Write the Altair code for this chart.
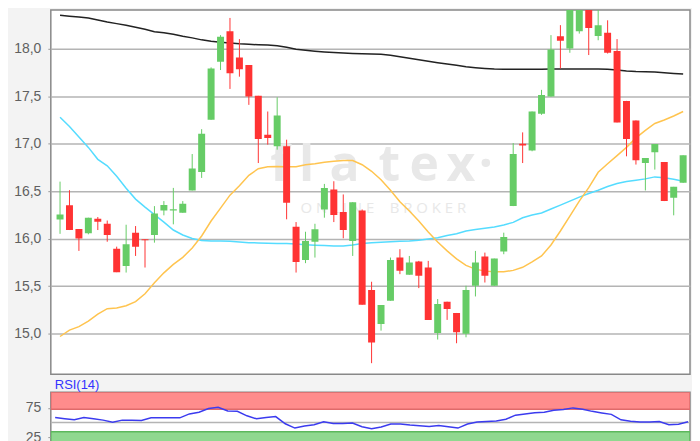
import altair as alt
import pandas as pd
import numpy as np

# ---- data (daily candles, oldest first) ----
opens = [16.20, 16.35, 16.10, 16.056, 16.21, 16.156, 15.894, 15.712, 16.062, 15.993,
         16.038, 16.297, 16.295, 16.272, 16.507, 16.702, 17.252, 17.864, 18.186, 17.909,
         17.829, 17.504, 17.094, 16.972, 16.972, 16.125, 15.775, 15.967, 16.307, 16.517,
         16.279, 15.975, 16.297, 15.458, 15.10, 15.345, 15.80, 15.618, 15.758, 15.695,
         15.006, 15.335, 15.216, 14.996, 15.503, 15.81, 15.503, 15.863, 16.342, 17.00,
         16.927, 17.315, 17.496, 18.133, 18.003, 18.186, 18.55, 18.136, 18.168, 17.976,
         17.451, 17.245, 16.796, 16.909, 16.807, 16.429, 16.587]
highs = [16.60, 16.51, 16.10, 16.22, 16.227, 16.19, 15.915, 16.146, 16.132, 15.993,
         16.342, 16.395, 16.534, 16.395, 16.891, 17.153, 17.804, 18.144, 18.325, 18.102,
         17.829, 17.504, 17.339, 17.489, 17.042, 16.174, 16.072, 16.156, 16.576, 16.604,
         16.465, 16.384, 16.307, 15.545, 15.30, 15.80, 15.888, 15.817, 15.765, 15.765,
         15.363, 15.335, 15.216, 15.503, 15.87, 15.852, 15.789, 16.062, 17.006, 17.119,
         17.339, 17.567, 18.144, 18.249, 18.62, 18.52, 18.60, 18.44, 18.30, 18.102,
         17.451, 17.245, 16.849, 16.996, 16.807, 16.545, 16.877]
lows = [16.05, 16.09, 15.87, 16.045, 16.09, 15.967, 15.646, 15.642, 15.817, 15.695,
        15.957, 16.245, 16.15, 16.272, 16.507, 16.639, 17.252, 17.776, 17.577, 17.706,
        17.409, 16.796, 16.99, 16.937, 16.203, 15.642, 15.741, 15.80, 16.22, 16.174,
        16.003, 15.817, 15.303, 14.687, 15.03, 15.345, 15.625, 15.618, 15.478, 15.143,
        14.936, 15.143, 14.897, 14.96, 15.39, 15.537, 15.503, 15.835, 16.342, 16.796,
        16.92, 17.304, 17.496, 17.793, 17.958, 18.16, 17.934, 18.09, 17.95, 17.224,
        16.867, 16.78, 16.507, 16.727, 16.395, 16.245, 16.587]
closes = [16.255, 16.09, 16.00, 16.22, 16.177, 16.038, 15.646, 15.94, 15.915, 15.982,
          16.265, 16.353, 16.31, 16.366, 16.738, 17.105, 17.793, 18.126, 17.741, 17.783,
          17.496, 17.048, 17.059, 17.297, 16.377, 15.754, 15.975, 16.098, 16.534, 16.248,
          16.09, 16.384, 15.303, 14.905, 15.30, 15.775, 15.66, 15.747, 15.608, 15.143,
          15.31, 15.258, 15.013, 15.458, 15.747, 15.608, 15.789, 16.017, 16.891, 16.982,
          17.339, 17.514, 17.993, 18.084, 18.56, 18.44, 18.22, 18.249, 17.958, 17.224,
          17.048, 16.825, 16.849, 16.996, 16.395, 16.545, 16.877]

ma_long = [18.354, 18.344, 18.336, 18.325, 18.304, 18.283, 18.265, 18.247, 18.226, 18.205,
           18.180, 18.168, 18.152, 18.131, 18.115, 18.094, 18.079, 18.068, 18.060, 18.052,
           18.047, 18.042, 18.039, 18.031, 18.016, 17.995, 17.984, 17.974, 17.966, 17.960,
           17.956, 17.951, 17.948, 17.945, 17.942, 17.932, 17.916, 17.900, 17.885, 17.869,
           17.853, 17.839, 17.827, 17.811, 17.801, 17.793, 17.787, 17.785, 17.785, 17.785,
           17.785, 17.785, 17.787, 17.787, 17.787, 17.787, 17.787, 17.787, 17.785, 17.776,
           17.766, 17.761, 17.759, 17.756, 17.748, 17.740, 17.733]
ma_mid = [17.279, 17.182, 17.071, 16.961, 16.835, 16.767, 16.657, 16.531, 16.416, 16.332,
          16.253, 16.174, 16.090, 16.038, 16.001, 15.980, 15.975, 15.975, 15.972, 15.964,
          15.957, 15.954, 15.951, 15.949, 15.947, 15.943, 15.936, 15.930, 15.926, 15.922,
          15.922, 15.933, 15.947, 15.957, 15.961, 15.967, 15.972, 15.975, 15.982, 15.996,
          16.009, 16.033, 16.051, 16.080, 16.096, 16.108, 16.122, 16.143, 16.171, 16.219,
          16.248, 16.269, 16.311, 16.353, 16.395, 16.437, 16.475, 16.510, 16.549, 16.580,
          16.601, 16.615, 16.629, 16.650, 16.641, 16.625, 16.604]
ma_short = [14.968, 15.036, 15.072, 15.130, 15.204, 15.261, 15.269, 15.293, 15.335, 15.419,
            15.534, 15.639, 15.728, 15.802, 15.901, 16.027, 16.185, 16.321, 16.458, 16.557,
            16.667, 16.736, 16.757, 16.760, 16.757, 16.757, 16.778, 16.788, 16.804, 16.814,
            16.822, 16.822, 16.778, 16.709, 16.620, 16.510, 16.389, 16.290, 16.185, 16.069,
            15.964, 15.870, 15.786, 15.718, 15.678, 15.657, 15.650, 15.650, 15.665, 15.697,
            15.755, 15.817, 15.933, 16.080, 16.237, 16.395, 16.536, 16.699, 16.788, 16.874,
            16.961, 17.061, 17.140, 17.213, 17.250, 17.292, 17.339]
rsi = [58.6, 56.7, 54.7, 58.6, 56.7, 54.2, 50.8, 54.2, 53.9, 53.5,
       58.1, 58.1, 58.1, 58.1, 64.8, 67.7, 73.8, 76.1, 69.9, 69.1,
       61.5, 56.4, 58.6, 60.3, 48.0, 40.7, 44.1, 46.3, 51.3, 48.5,
       48.5, 49.2, 42.9, 39.5, 42.6, 47.5, 47.5, 45.8, 44.6, 43.4,
       45.1, 42.9, 40.7, 47.5, 51.0, 51.7, 52.7, 55.6, 62.6, 64.8,
       66.9, 67.7, 71.1, 72.1, 75.0, 72.8, 69.1, 66.5, 64.0, 54.7,
       52.2, 51.0, 51.0, 51.9, 46.3, 47.3, 51.3]

price_ticks = [15.0, 15.5, 16.0, 16.5, 17.0, 17.5, 18.0]
rsi_ticks = [25, 75]
rsi_upper_zone = [72.5, 101.5]
rsi_lower_zone = [0, 34.3]
rsi_midline = [50]

# ---- table ----
n = len(opens)
df = pd.DataFrame({
    "i": list(range(n)),
    "open": opens, "high": highs, "low": lows, "close": closes,
    "ma_long": ma_long, "ma_mid": ma_mid, "ma_short": ma_short, "rsi": rsi,
})
df["dir"] = np.where(df["close"] >= df["open"], "up", "down")

W = 642
AX = 42
H_MAIN = 366
H_RSI = 60
FONT = "Liberation Sans"

xenc = alt.X("i:Q", scale=alt.Scale(domain=[-0.45, 66.2], nice=False, zero=False), axis=None)
yscale = alt.Scale(domain=[14.569, 18.409], nice=False, zero=False)
main_axis = alt.Axis(values=price_ticks,
                     labelExpr="replace(format(datum.value, '.1f'), '.', ',')",
                     grid=True, gridColor="#b4b4b4", gridWidth=1.5,
                     domain=False, tickSize=3, tickColor="#999999", labelPadding=7,
                     labelFontSize=14, labelColor="#606060", labelFont=FONT,
                     minExtent=AX, maxExtent=AX)
color = alt.Color("dir:N", scale=alt.Scale(domain=["up", "down"], range=["#66cc66", "#ff3333"]),
                  legend=None)

base = alt.Chart(df)

# watermark
wm_color = "#e8e8e8"
wm_letters = [("f", 230), ("l", 257), ("a", 295), ("t", 340), ("e", 375), ("x", 412), ("\u00b7", 437)]
wm_layers = []
for ch, px in wm_letters:
    wm_layers.append(
        alt.Chart(alt.Data(values=[{"k": 1}])).mark_text(
            text=ch, font="Open Sans", fontSize=50, fontWeight="bold", color=wm_color,
            align="center", baseline="alphabetic"
        ).encode(x=alt.value(px), y=alt.value(172))
    )
NB = "\u00a0"
wm_layers.append(
    alt.Chart(alt.Data(values=[{"k": 1}])).mark_text(
        text=NB.join("ONLINE") + NB * 4 + NB.join("BROKER"), font="Open Sans", fontSize=15,
        color=wm_color, align="center", baseline="alphabetic"
    ).encode(x=alt.value(334), y=alt.value(204))
)

ma_l = base.mark_line(color="#222222", strokeWidth=1.5, clip=True).encode(
    x=xenc, y=alt.Y("ma_long:Q", scale=yscale, axis=main_axis, title=None))
ma_m = base.mark_line(color="#55dcff", strokeWidth=1.5, clip=True).encode(
    x=xenc, y=alt.Y("ma_mid:Q", scale=yscale, axis=main_axis, title=None))
ma_s = base.mark_line(color="#ffc44f", strokeWidth=1.5, clip=True).encode(
    x=xenc, y=alt.Y("ma_short:Q", scale=yscale, axis=main_axis, title=None))
wicks = base.mark_rule(strokeWidth=1, clip=True).encode(
    x=xenc, y=alt.Y("low:Q", scale=yscale, axis=main_axis, title=None), y2="high:Q", color=color)
bodies = base.mark_bar(size=7, clip=True).encode(
    x=xenc, y=alt.Y("open:Q", scale=yscale, axis=main_axis, title=None), y2="close:Q", color=color)

main = alt.layer(ma_l, *wm_layers, ma_m, ma_s, wicks, bodies).properties(width=W, height=H_MAIN)

# ---- RSI panel ----
rsi_scale = alt.Scale(domain=[0, 101.5], nice=False, zero=False)
rsi_axis = alt.Axis(values=rsi_ticks, grid=False, domain=False, tickSize=3, tickColor="#999999",
                    labelPadding=7, labelFontSize=14, labelColor="#606060", labelFont=FONT,
                    minExtent=AX, maxExtent=AX)
zones = pd.DataFrame({"lo": [rsi_upper_zone[0], rsi_lower_zone[0]],
                      "hi": [rsi_upper_zone[1], rsi_lower_zone[1]],
                      "zone": ["over", "under"]})
zone_rect = alt.Chart(zones).mark_rect(strokeWidth=1.5, clip=True).encode(
    y=alt.Y("lo:Q", scale=rsi_scale, axis=rsi_axis, title=None), y2="hi:Q",
    x=alt.value(0), x2=alt.value(W),
    fill=alt.Fill("zone:N", scale=alt.Scale(domain=["over", "under"], range=["#ff8c8c", "#8fd88f"]), legend=None),
    stroke=alt.Stroke("zone:N", scale=alt.Scale(domain=["over", "under"], range=["#e06a6a", "#5cb85c"]), legend=None),
)
mid = alt.Chart(pd.DataFrame({"v": rsi_midline})).mark_rule(color="#b4b4b4", strokeWidth=1.5).encode(
    y=alt.Y("v:Q", scale=rsi_scale, axis=rsi_axis, title=None))
rsi_line = base.mark_line(color="#3b3bef", strokeWidth=1.5, clip=True).encode(
    x=xenc, y=alt.Y("rsi:Q", scale=rsi_scale, axis=rsi_axis, title=None))
rsi_label = alt.Chart(alt.Data(values=[{"k": 1}])).mark_text(
    text="RSI(14)", align="left", baseline="middle", fontSize=13, color="#3333ff", font=FONT
).encode(x=alt.value(4), y=alt.value(-7))

rsi_chart = alt.layer(zone_rect, mid, rsi_line, rsi_label).properties(width=W, height=H_RSI)

chart = alt.vconcat(main, rsi_chart, spacing=18, bounds="flush").properties(
    background="#f3f3f3",
    padding={"left": 0, "top": 0, "right": 0, "bottom": 0},
).configure_view(fill="white", stroke="#888888", strokeWidth=1.5)

chart.save("out.html", embed_options={"renderer": "svg", "actions": False})
